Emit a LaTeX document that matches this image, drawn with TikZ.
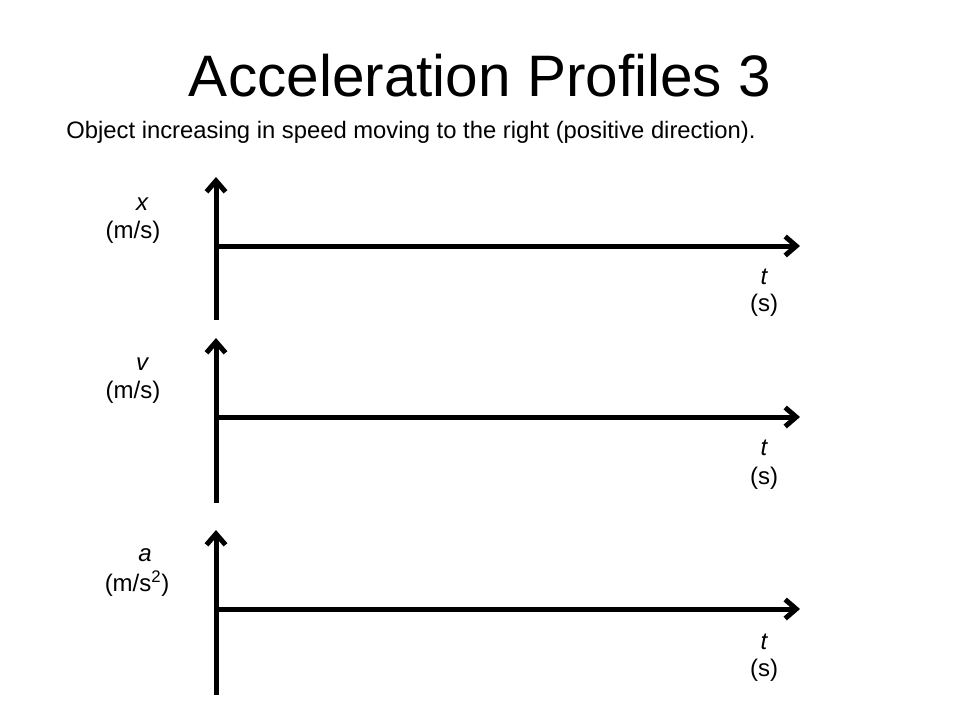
\documentclass[tikz,border=0pt]{standalone}
\usepackage{fontspec}
\setmainfont{Liberation Sans}
\usepackage{tikz}
\usetikzlibrary{positioning,arrows.meta}
\tikzset{
  axis/.style={line width=5pt, -{Straight Barb[length=11pt, width=19pt, line width=5pt]}},
  axislabel/.style={inner sep=0pt, font=\fontsize{24}{28}\selectfont, align=center},
  titletext/.style={inner sep=0pt, font=\fontsize{58.5}{64}\selectfont},
  subtext/.style={inner sep=0pt, font=\fontsize{23.8}{28}\selectfont},
}
\begin{document}
\begin{tikzpicture}[x=1pt, y=-1pt]
  \useasboundingbox[fill=white] (0,0) rectangle (960,720);

  \node[titletext] (title) at (480,76) {Acceleration Profiles 3};
  \node[subtext] (subtitle) at (411,132) {Object increasing in speed moving to the right (positive direction).};

  % position
  \coordinate (xbot) at (216,320);
  \coordinate (xtop) at (216,177);
  \coordinate (xorig) at (216,246);
  \coordinate (xend) at (800,246);
  \draw[axis] (xbot) -- (xtop);
  \draw[axis] (xorig) -- (xend);
  \node[axislabel] (xname) at (142,204) {\itshape x};
  \node[axislabel] (xunit) at (133,232) {(m/s)};
  \node[axislabel] (xtname) at (764,277) {\itshape t};
  \node[axislabel] (xtunit) at (764,305) {(s)};

  % velocity
  \coordinate (vbot) at (216,503);
  \coordinate (vtop) at (216,338);
  \coordinate (vorig) at (216,417);
  \coordinate (vend) at (800,417);
  \draw[axis] (vbot) -- (vtop);
  \draw[axis] (vorig) -- (vend);
  \node[axislabel] (vname) at (142,364) {\itshape v};
  \node[axislabel] (vunit) at (133,392) {(m/s)};
  \node[axislabel] (vtname) at (764,448) {\itshape t};
  \node[axislabel] (vtunit) at (764,478) {(s)};

  % acceleration
  \coordinate (abot) at (216,695);
  \coordinate (atop) at (216,530);
  \coordinate (aorig) at (216,609);
  \coordinate (aend) at (800,609);
  \draw[axis] (abot) -- (atop);
  \draw[axis] (aorig) -- (aend);
  \node[axislabel] (aname) at (145,555) {\itshape a};
  \node[axislabel] (aunit) at (137,584) {(m/s\textsuperscript{2})};
  \node[axislabel] (atname) at (764,642) {\itshape t};
  \node[axislabel] (atunit) at (764,670) {(s)};

\end{tikzpicture}
\end{document}
